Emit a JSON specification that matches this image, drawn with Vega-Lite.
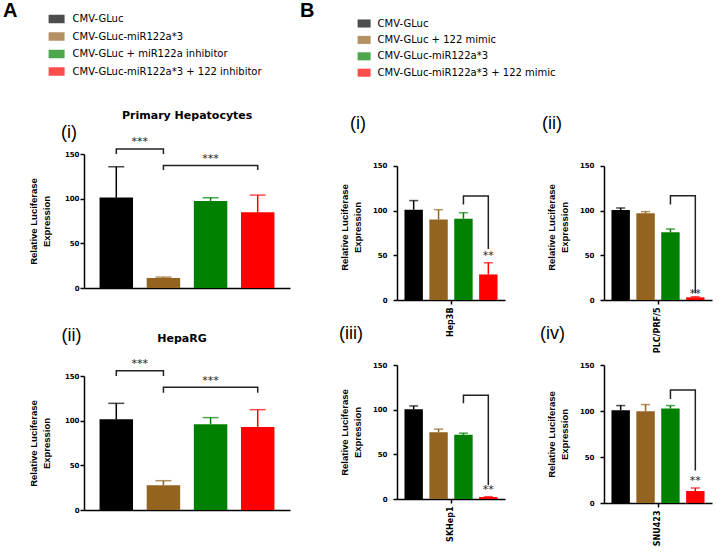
{
  "$schema": "https://vega.github.io/schema/vega-lite/v6.json",
  "autosize": {"type": "none"},
  "padding": {"left": 84, "top": 154, "right": 634, "bottom": 398},
  "background": "white",
  "spacing": 10,
  "resolve": {"scale": {"color": "independent"}, "legend": {"color": "independent"}},
  "hconcat": [
    {
      "spacing": 36,
      "vconcat": [
        {
          "title": {"text": "Primary Hepatocytes", "anchor": "middle", "dx": 28, "offset": 3, "font": "DejaVu Sans", "fontSize": 11, "fontWeight": "bold", "color": "black"},
          "vconcat": [
            {
              "width": 206, "height": 134,
              "title": {"text": "(i)", "anchor": "start", "frame": "group", "dx": -23, "offset": -6, "font": "Liberation Sans", "fontSize": 18, "fontWeight": "normal", "color": "black"},
              "data": {"values": [
                {"group": "CMV-GLuc", "mean": 101.2, "upper": 135.7},
                {"group": "CMV-GLuc-miR122a*3", "mean": 11.2, "upper": 12.2},
                {"group": "CMV-GLuc + miR122a inhibitor", "mean": 97.5, "upper": 101},
                {"group": "CMV-GLuc-miR122a*3 + 122 inhibitor", "mean": 84.7, "upper": 104}
              ]},
              "encoding": {
                "x": {"field": "group", "type": "nominal", "scale": {"domain": ["CMV-GLuc", "CMV-GLuc-miR122a*3", "CMV-GLuc + miR122a inhibitor", "CMV-GLuc-miR122a*3 + 122 inhibitor"], "paddingInner": 0.29, "paddingOuter": 0.33}, "axis": {"labels": false, "ticks": false, "title": null}},
                "color": {"field": "group", "type": "nominal", "scale": {"domain": ["CMV-GLuc", "CMV-GLuc-miR122a*3", "CMV-GLuc + miR122a inhibitor", "CMV-GLuc-miR122a*3 + 122 inhibitor"], "range": ["#000000", "#946320", "#008000", "#ff0000"]}, "legend": {"title": "A", "titleOrient": "left", "titleAnchor": "start", "titleBaseline": "middle", "titlePadding": 30.6, "titleFont": "Liberation Sans", "titleFontSize": 20, "titleFontWeight": "bold", "titleColor": "black", "orient": "none", "legendX": -81, "legendY": -143, "symbolType": "M-1,-0.53H1V0.53H-1Z", "symbolSize": 256, "symbolStrokeWidth": 0, "labelFont": "DejaVu Sans", "labelFontSize": 10, "labelColor": "black", "labelLimit": 400, "labelOffset": 8, "rowPadding": 4.5, "padding": 0}}
              },
              "layer": [
                {"mark": {"type": "rule", "strokeWidth": 1.5}, "encoding": {"y": {"field": "mean", "type": "quantitative", "scale": {"domain": [0, 150], "nice": false}, "axis": {"values": [0, 50, 100, 150], "title": ["Relative Luciferase", "Expression"], "labelPadding": 1, "titlePadding": 13}}, "y2": {"field": "upper"}}},
                {"mark": {"type": "tick", "size": 16, "thickness": 1.5}, "encoding": {"y": {"field": "upper", "type": "quantitative", "scale": {"domain": [0, 150], "nice": false}}}},
                {"mark": {"type": "bar"}, "encoding": {"y": {"field": "mean", "type": "quantitative", "scale": {"domain": [0, 150], "nice": false}}}},
                {"data": {"values": [
                  {"id": 1, "step": 1, "group": "CMV-GLuc", "v": 150},
                  {"id": 1, "step": 2, "group": "CMV-GLuc", "v": 155.6},
                  {"id": 1, "step": 3, "group": "CMV-GLuc-miR122a*3", "v": 155.6},
                  {"id": 1, "step": 4, "group": "CMV-GLuc-miR122a*3", "v": 150},
                  {"id": 2, "step": 1, "group": "CMV-GLuc-miR122a*3", "v": 132},
                  {"id": 2, "step": 2, "group": "CMV-GLuc-miR122a*3", "v": 137},
                  {"id": 2, "step": 3, "group": "CMV-GLuc-miR122a*3 + 122 inhibitor", "v": 137},
                  {"id": 2, "step": 4, "group": "CMV-GLuc-miR122a*3 + 122 inhibitor", "v": 132}
                ]}, "mark": {"type": "line", "strokeWidth": 1.5}, "encoding": {"y": {"field": "v", "type": "quantitative", "scale": {"domain": [0, 150], "nice": false}}, "order": {"field": "step", "type": "quantitative"}, "detail": {"field": "id", "type": "nominal"}, "color": {"value": "#222222"}}},
                {"data": {"values": [{"group": "CMV-GLuc", "v": 159.8, "label": "***"}]}, "mark": {"type": "text", "font": "DejaVu Sans", "fontSize": 11, "baseline": "alphabetic", "fill": "#222222"}, "encoding": {"x": {"field": "group", "type": "nominal", "bandPosition": 1.204}, "y": {"field": "v", "type": "quantitative", "scale": {"domain": [0, 150], "nice": false}}, "text": {"field": "label"}, "color": {"value": "#222222"}}},
                {"data": {"values": [{"group": "CMV-GLuc + miR122a inhibitor", "v": 140.7, "label": "***"}]}, "mark": {"type": "text", "font": "DejaVu Sans", "fontSize": 11, "baseline": "alphabetic", "fill": "#222222"}, "encoding": {"x": {"field": "group", "type": "nominal", "bandPosition": 0.5}, "y": {"field": "v", "type": "quantitative", "scale": {"domain": [0, 150], "nice": false}}, "text": {"field": "label"}, "color": {"value": "#222222"}}}
              ]
            }
          ]
        },
        {
          "title": {"text": "(ii)", "anchor": "start", "dx": 33, "offset": -12, "font": "Liberation Sans", "fontSize": 18, "fontWeight": "normal", "color": "black"},
          "vconcat": [
            {
              "width": 206, "height": 134,
              "title": {"text": "HepaRG", "anchor": "middle", "frame": "group", "dx": -5, "offset": 14, "font": "DejaVu Sans", "fontSize": 11, "fontWeight": "bold", "color": "black"},
              "data": {"values": [
                {"group": "CMV-GLuc", "mean": 101.5, "upper": 119.4},
                {"group": "CMV-GLuc-miR122a*3", "mean": 27.6, "upper": 32.8},
                {"group": "CMV-GLuc + miR122a inhibitor", "mean": 95.9, "upper": 103.4},
                {"group": "CMV-GLuc-miR122a*3 + 122 inhibitor", "mean": 92.9, "upper": 112.3}
              ]},
              "encoding": {
                "x": {"field": "group", "type": "nominal", "scale": {"domain": ["CMV-GLuc", "CMV-GLuc-miR122a*3", "CMV-GLuc + miR122a inhibitor", "CMV-GLuc-miR122a*3 + 122 inhibitor"], "paddingInner": 0.29, "paddingOuter": 0.33}, "axis": {"labels": false, "ticks": false, "title": null}},
                "color": {"field": "group", "type": "nominal", "scale": {"domain": ["CMV-GLuc", "CMV-GLuc-miR122a*3", "CMV-GLuc + miR122a inhibitor", "CMV-GLuc-miR122a*3 + 122 inhibitor"], "range": ["#000000", "#946320", "#008000", "#ff0000"]}, "legend": {"title": "A", "titleOrient": "left", "titleAnchor": "start", "titleBaseline": "middle", "titlePadding": 30.6, "titleFont": "Liberation Sans", "titleFontSize": 20, "titleFontWeight": "bold", "titleColor": "black", "orient": "none", "legendX": -81, "legendY": -143, "symbolType": "M-1,-0.53H1V0.53H-1Z", "symbolSize": 256, "symbolStrokeWidth": 0, "labelFont": "DejaVu Sans", "labelFontSize": 10, "labelColor": "black", "labelLimit": 400, "labelOffset": 8, "rowPadding": 4.5, "padding": 0}}
              },
              "layer": [
                {"mark": {"type": "rule", "strokeWidth": 1.5}, "encoding": {"y": {"field": "mean", "type": "quantitative", "scale": {"domain": [0, 150], "nice": false}, "axis": {"values": [0, 50, 100, 150], "title": ["Relative Luciferase", "Expression"], "labelPadding": 1, "titlePadding": 13}}, "y2": {"field": "upper"}}},
                {"mark": {"type": "tick", "size": 16, "thickness": 1.5}, "encoding": {"y": {"field": "upper", "type": "quantitative", "scale": {"domain": [0, 150], "nice": false}}}},
                {"mark": {"type": "bar"}, "encoding": {"y": {"field": "mean", "type": "quantitative", "scale": {"domain": [0, 150], "nice": false}}}},
                {"data": {"values": [
                  {"id": 1, "step": 1, "group": "CMV-GLuc", "v": 150},
                  {"id": 1, "step": 2, "group": "CMV-GLuc", "v": 156},
                  {"id": 1, "step": 3, "group": "CMV-GLuc-miR122a*3", "v": 156},
                  {"id": 1, "step": 4, "group": "CMV-GLuc-miR122a*3", "v": 150},
                  {"id": 2, "step": 1, "group": "CMV-GLuc-miR122a*3", "v": 131.3},
                  {"id": 2, "step": 2, "group": "CMV-GLuc-miR122a*3", "v": 137.3},
                  {"id": 2, "step": 3, "group": "CMV-GLuc-miR122a*3 + 122 inhibitor", "v": 137.3},
                  {"id": 2, "step": 4, "group": "CMV-GLuc-miR122a*3 + 122 inhibitor", "v": 131.3}
                ]}, "mark": {"type": "line", "strokeWidth": 1.5}, "encoding": {"y": {"field": "v", "type": "quantitative", "scale": {"domain": [0, 150], "nice": false}}, "order": {"field": "step", "type": "quantitative"}, "detail": {"field": "id", "type": "nominal"}, "color": {"value": "#222222"}}},
                {"data": {"values": [{"group": "CMV-GLuc", "v": 159.8, "label": "***"}]}, "mark": {"type": "text", "font": "DejaVu Sans", "fontSize": 11, "baseline": "alphabetic", "fill": "#222222"}, "encoding": {"x": {"field": "group", "type": "nominal", "bandPosition": 1.204}, "y": {"field": "v", "type": "quantitative", "scale": {"domain": [0, 150], "nice": false}}, "text": {"field": "label"}, "color": {"value": "#222222"}}},
                {"data": {"values": [{"group": "CMV-GLuc + miR122a inhibitor", "v": 140.8, "label": "***"}]}, "mark": {"type": "text", "font": "DejaVu Sans", "fontSize": 11, "baseline": "alphabetic", "fill": "#222222"}, "encoding": {"x": {"field": "group", "type": "nominal", "bandPosition": 0.5}, "y": {"field": "v", "type": "quantitative", "scale": {"domain": [0, 150], "nice": false}}, "text": {"field": "label"}, "color": {"value": "#222222"}}}
              ]
            }
          ]
        }
      ]
    },
    {
      "columns": 2,
      "bounds": "flush",
      "spacing": {"row": 65, "column": 99},
      "concat": [
        {
          "width": 108, "height": 146,
          "title": {"text": "(i)", "anchor": "start", "frame": "group", "dx": -47, "offset": 21, "font": "Liberation Sans", "fontSize": 18, "fontWeight": "normal", "color": "black"},
          "data": {"values": [
            {"group": "CMV-GLuc", "mean": 101.1, "upper": 111.3},
            {"group": "CMV-GLuc + 122 mimic", "mean": 90.2, "upper": 101.1},
            {"group": "CMV-GLuc-miR122a*3", "mean": 91, "upper": 97.7},
            {"group": "CMV-GLuc-miR122a*3 + 122 mimic", "mean": 28.6, "upper": 41.7}
          ]},
          "encoding": {
            "x": {"field": "group", "type": "nominal", "scale": {"domain": ["CMV-GLuc", "CMV-GLuc + 122 mimic", "CMV-GLuc-miR122a*3", "CMV-GLuc-miR122a*3 + 122 mimic"], "paddingInner": 0.26, "paddingOuter": 0.3}, "axis": {"values": ["CMV-GLuc + 122 mimic"], "tickOffset": 12.4, "labelExpr": "'Hep3B'", "labelAngle": 270, "labelPadding": 3, "labelFontSize": 8, "title": null}},
            "color": {"field": "group", "type": "nominal", "scale": {"domain": ["CMV-GLuc", "CMV-GLuc + 122 mimic", "CMV-GLuc-miR122a*3", "CMV-GLuc-miR122a*3 + 122 mimic"], "range": ["#000000", "#946320", "#008000", "#ff0000"]}, "legend": {"title": "B", "titleOrient": "left", "titleAnchor": "start", "titleBaseline": "alphabetic", "titlePadding": 42.6, "titleFont": "Liberation Sans", "titleFontSize": 20, "titleFontWeight": "bold", "titleColor": "black", "orient": "none", "legendX": -97, "legendY": -137, "symbolType": "M-1,-0.62H1V0.62H-1Z", "symbolSize": 169, "symbolStrokeWidth": 0, "labelFont": "DejaVu Sans", "labelFontSize": 10, "labelColor": "black", "labelLimit": 400, "labelOffset": 7, "rowPadding": 4.4, "padding": 0}}
          },
          "layer": [
            {"mark": {"type": "rule", "strokeWidth": 1.5}, "encoding": {"y": {"field": "mean", "type": "quantitative", "scale": {"domain": [0, 163.43], "nice": false}, "axis": {"values": [0, 50, 100, 150], "title": ["Relative Luciferase", "Expression"], "labelPadding": 6, "titlePadding": 10, "domainDash": [134, 40]}}, "y2": {"field": "upper"}}},
            {"mark": {"type": "tick", "size": 9, "thickness": 1.5}, "encoding": {"y": {"field": "upper", "type": "quantitative", "scale": {"domain": [0, 163.43], "nice": false}}}},
            {"mark": {"type": "bar"}, "encoding": {"y": {"field": "mean", "type": "quantitative", "scale": {"domain": [0, 163.43], "nice": false}}}},
            {"data": {"values": [
              {"id": 1, "step": 1, "group": "CMV-GLuc-miR122a*3", "v": 106.8},
              {"id": 1, "step": 2, "group": "CMV-GLuc-miR122a*3", "v": 116.5},
              {"id": 1, "step": 3, "group": "CMV-GLuc-miR122a*3 + 122 mimic", "v": 116.5},
              {"id": 1, "step": 4, "group": "CMV-GLuc-miR122a*3 + 122 mimic", "v": 57.1}
            ]}, "mark": {"type": "line", "strokeWidth": 1.5}, "encoding": {"y": {"field": "v", "type": "quantitative", "scale": {"domain": [0, 163.43], "nice": false}}, "order": {"field": "step", "type": "quantitative"}, "detail": {"field": "id", "type": "nominal"}, "color": {"value": "#222222"}}},
            {"data": {"values": [{"group": "CMV-GLuc-miR122a*3 + 122 mimic", "v": 45.4, "label": "**"}]}, "mark": {"type": "text", "font": "DejaVu Sans", "fontSize": 11, "baseline": "alphabetic"}, "encoding": {"y": {"field": "v", "type": "quantitative", "scale": {"domain": [0, 163.43], "nice": false}}, "text": {"field": "label"}, "color": {"value": "#222222"}}}
          ]
        },
        {
          "width": 108, "height": 146,
          "title": {"text": "(ii)", "anchor": "start", "frame": "group", "dx": -62, "offset": 21, "font": "Liberation Sans", "fontSize": 18, "fontWeight": "normal", "color": "black"},
          "data": {"values": [
            {"group": "CMV-GLuc", "mean": 100.7, "upper": 103},
            {"group": "CMV-GLuc + 122 mimic", "mean": 97, "upper": 98.9},
            {"group": "CMV-GLuc-miR122a*3", "mean": 75.7, "upper": 79.5},
            {"group": "CMV-GLuc-miR122a*3 + 122 mimic", "mean": 3, "upper": 3.7}
          ]},
          "encoding": {
            "x": {"field": "group", "type": "nominal", "scale": {"domain": ["CMV-GLuc", "CMV-GLuc + 122 mimic", "CMV-GLuc-miR122a*3", "CMV-GLuc-miR122a*3 + 122 mimic"], "paddingInner": 0.26, "paddingOuter": 0.3}, "axis": {"values": ["CMV-GLuc + 122 mimic"], "tickOffset": 12.4, "labelExpr": "'PLC/PRF/5'", "labelAngle": 270, "labelPadding": 3, "labelFontSize": 8, "title": null}},
            "color": {"field": "group", "type": "nominal", "scale": {"domain": ["CMV-GLuc", "CMV-GLuc + 122 mimic", "CMV-GLuc-miR122a*3", "CMV-GLuc-miR122a*3 + 122 mimic"], "range": ["#000000", "#946320", "#008000", "#ff0000"]}, "legend": {"title": "B", "titleOrient": "left", "titleAnchor": "start", "titleBaseline": "alphabetic", "titlePadding": 42.6, "titleFont": "Liberation Sans", "titleFontSize": 20, "titleFontWeight": "bold", "titleColor": "black", "orient": "none", "legendX": -97, "legendY": -137, "symbolType": "M-1,-0.62H1V0.62H-1Z", "symbolSize": 169, "symbolStrokeWidth": 0, "labelFont": "DejaVu Sans", "labelFontSize": 10, "labelColor": "black", "labelLimit": 400, "labelOffset": 7, "rowPadding": 4.4, "padding": 0}}
          },
          "layer": [
            {"mark": {"type": "rule", "strokeWidth": 1.5}, "encoding": {"y": {"field": "mean", "type": "quantitative", "scale": {"domain": [0, 163.43], "nice": false}, "axis": {"values": [0, 50, 100, 150], "title": ["Relative Luciferase", "Expression"], "labelPadding": 6, "titlePadding": 10, "domainDash": [134, 40]}}, "y2": {"field": "upper"}}},
            {"mark": {"type": "tick", "size": 9, "thickness": 1.5}, "encoding": {"y": {"field": "upper", "type": "quantitative", "scale": {"domain": [0, 163.43], "nice": false}}}},
            {"mark": {"type": "bar"}, "encoding": {"y": {"field": "mean", "type": "quantitative", "scale": {"domain": [0, 163.43], "nice": false}}}},
            {"data": {"values": [
              {"id": 1, "step": 1, "group": "CMV-GLuc-miR122a*3", "v": 107},
              {"id": 1, "step": 2, "group": "CMV-GLuc-miR122a*3", "v": 116.8},
              {"id": 1, "step": 3, "group": "CMV-GLuc-miR122a*3 + 122 mimic", "v": 116.8},
              {"id": 1, "step": 4, "group": "CMV-GLuc-miR122a*3 + 122 mimic", "v": 7.5}
            ]}, "mark": {"type": "line", "strokeWidth": 1.5}, "encoding": {"y": {"field": "v", "type": "quantitative", "scale": {"domain": [0, 163.43], "nice": false}}, "order": {"field": "step", "type": "quantitative"}, "detail": {"field": "id", "type": "nominal"}, "color": {"value": "#222222"}}},
            {"data": {"values": [{"group": "CMV-GLuc-miR122a*3 + 122 mimic", "v": 3.3, "label": "**"}]}, "mark": {"type": "text", "font": "DejaVu Sans", "fontSize": 11, "baseline": "alphabetic"}, "encoding": {"y": {"field": "v", "type": "quantitative", "scale": {"domain": [0, 163.43], "nice": false}}, "text": {"field": "label"}, "color": {"value": "#222222"}}}
          ]
        },
        {
          "width": 108, "height": 134,
          "title": {"text": "(iii)", "anchor": "start", "frame": "group", "dx": -58, "offset": 18, "font": "Liberation Sans", "fontSize": 18, "fontWeight": "normal", "color": "black"},
          "data": {"values": [
            {"group": "CMV-GLuc", "mean": 100.5, "upper": 104.2},
            {"group": "CMV-GLuc + 122 mimic", "mean": 74.8, "upper": 78.2},
            {"group": "CMV-GLuc-miR122a*3", "mean": 71.8, "upper": 73.7},
            {"group": "CMV-GLuc-miR122a*3 + 122 mimic", "mean": 2.2, "upper": 2.6}
          ]},
          "encoding": {
            "x": {"field": "group", "type": "nominal", "scale": {"domain": ["CMV-GLuc", "CMV-GLuc + 122 mimic", "CMV-GLuc-miR122a*3", "CMV-GLuc-miR122a*3 + 122 mimic"], "paddingInner": 0.26, "paddingOuter": 0.3}, "axis": {"values": ["CMV-GLuc + 122 mimic"], "tickOffset": 12.4, "labelExpr": "'SKHep1'", "labelAngle": 270, "labelPadding": 3, "labelFontSize": 8, "title": null}},
            "color": {"field": "group", "type": "nominal", "scale": {"domain": ["CMV-GLuc", "CMV-GLuc + 122 mimic", "CMV-GLuc-miR122a*3", "CMV-GLuc-miR122a*3 + 122 mimic"], "range": ["#000000", "#946320", "#008000", "#ff0000"]}, "legend": {"title": "B", "titleOrient": "left", "titleAnchor": "start", "titleBaseline": "alphabetic", "titlePadding": 42.6, "titleFont": "Liberation Sans", "titleFontSize": 20, "titleFontWeight": "bold", "titleColor": "black", "orient": "none", "legendX": -97, "legendY": -137, "symbolType": "M-1,-0.62H1V0.62H-1Z", "symbolSize": 169, "symbolStrokeWidth": 0, "labelFont": "DejaVu Sans", "labelFontSize": 10, "labelColor": "black", "labelLimit": 400, "labelOffset": 7, "rowPadding": 4.4, "padding": 0}}
          },
          "layer": [
            {"mark": {"type": "rule", "strokeWidth": 1.5}, "encoding": {"y": {"field": "mean", "type": "quantitative", "scale": {"domain": [0, 150], "nice": false}, "axis": {"values": [0, 50, 100, 150], "title": ["Relative Luciferase", "Expression"], "labelPadding": 6, "titlePadding": 10}}, "y2": {"field": "upper"}}},
            {"mark": {"type": "tick", "size": 9, "thickness": 1.5}, "encoding": {"y": {"field": "upper", "type": "quantitative", "scale": {"domain": [0, 150], "nice": false}}}},
            {"mark": {"type": "bar"}, "encoding": {"y": {"field": "mean", "type": "quantitative", "scale": {"domain": [0, 150], "nice": false}}}},
            {"data": {"values": [
              {"id": 1, "step": 1, "group": "CMV-GLuc-miR122a*3", "v": 107.2},
              {"id": 1, "step": 2, "group": "CMV-GLuc-miR122a*3", "v": 116.1},
              {"id": 1, "step": 3, "group": "CMV-GLuc-miR122a*3 + 122 mimic", "v": 116.1},
              {"id": 1, "step": 4, "group": "CMV-GLuc-miR122a*3 + 122 mimic", "v": 15.3}
            ]}, "mark": {"type": "line", "strokeWidth": 1.5}, "encoding": {"y": {"field": "v", "type": "quantitative", "scale": {"domain": [0, 150], "nice": false}}, "order": {"field": "step", "type": "quantitative"}, "detail": {"field": "id", "type": "nominal"}, "color": {"value": "#222222"}}},
            {"data": {"values": [{"group": "CMV-GLuc-miR122a*3 + 122 mimic", "v": 6.6, "label": "**"}]}, "mark": {"type": "text", "font": "DejaVu Sans", "fontSize": 11, "baseline": "alphabetic"}, "encoding": {"y": {"field": "v", "type": "quantitative", "scale": {"domain": [0, 150], "nice": false}}, "text": {"field": "label"}, "color": {"value": "#222222"}}}
          ]
        },
        {
          "width": 108, "height": 138,
          "title": {"text": "(iv)", "anchor": "start", "frame": "group", "dx": -64, "offset": 18, "font": "Liberation Sans", "fontSize": 18, "fontWeight": "normal", "color": "black"},
          "data": {"values": [
            {"group": "CMV-GLuc", "mean": 100.8, "upper": 105.9},
            {"group": "CMV-GLuc + 122 mimic", "mean": 99.7, "upper": 107},
            {"group": "CMV-GLuc-miR122a*3", "mean": 102.6, "upper": 105.9},
            {"group": "CMV-GLuc-miR122a*3 + 122 mimic", "mean": 13, "upper": 16.3}
          ]},
          "encoding": {
            "x": {"field": "group", "type": "nominal", "scale": {"domain": ["CMV-GLuc", "CMV-GLuc + 122 mimic", "CMV-GLuc-miR122a*3", "CMV-GLuc-miR122a*3 + 122 mimic"], "paddingInner": 0.26, "paddingOuter": 0.3}, "axis": {"values": ["CMV-GLuc + 122 mimic"], "tickOffset": 12.4, "labelExpr": "'SNU423'", "labelAngle": 270, "labelPadding": 3, "labelFontSize": 8, "title": null}},
            "color": {"field": "group", "type": "nominal", "scale": {"domain": ["CMV-GLuc", "CMV-GLuc + 122 mimic", "CMV-GLuc-miR122a*3", "CMV-GLuc-miR122a*3 + 122 mimic"], "range": ["#000000", "#946320", "#008000", "#ff0000"]}, "legend": {"title": "B", "titleOrient": "left", "titleAnchor": "start", "titleBaseline": "alphabetic", "titlePadding": 42.6, "titleFont": "Liberation Sans", "titleFontSize": 20, "titleFontWeight": "bold", "titleColor": "black", "orient": "none", "legendX": -97, "legendY": -137, "symbolType": "M-1,-0.62H1V0.62H-1Z", "symbolSize": 169, "symbolStrokeWidth": 0, "labelFont": "DejaVu Sans", "labelFontSize": 10, "labelColor": "black", "labelLimit": 400, "labelOffset": 7, "rowPadding": 4.4, "padding": 0}}
          },
          "layer": [
            {"mark": {"type": "rule", "strokeWidth": 1.5}, "encoding": {"y": {"field": "mean", "type": "quantitative", "scale": {"domain": [0, 150], "nice": false}, "axis": {"values": [0, 50, 100, 150], "title": ["Relative Luciferase", "Expression"], "labelPadding": 6, "titlePadding": 10}}, "y2": {"field": "upper"}}},
            {"mark": {"type": "tick", "size": 9, "thickness": 1.5}, "encoding": {"y": {"field": "upper", "type": "quantitative", "scale": {"domain": [0, 150], "nice": false}}}},
            {"mark": {"type": "bar"}, "encoding": {"y": {"field": "mean", "type": "quantitative", "scale": {"domain": [0, 150], "nice": false}}}},
            {"data": {"values": [
              {"id": 1, "step": 1, "group": "CMV-GLuc-miR122a*3", "v": 113.1},
              {"id": 1, "step": 2, "group": "CMV-GLuc-miR122a*3", "v": 122.9},
              {"id": 1, "step": 3, "group": "CMV-GLuc-miR122a*3 + 122 mimic", "v": 122.9},
              {"id": 1, "step": 4, "group": "CMV-GLuc-miR122a*3 + 122 mimic", "v": 35.4}
            ]}, "mark": {"type": "line", "strokeWidth": 1.5}, "encoding": {"y": {"field": "v", "type": "quantitative", "scale": {"domain": [0, 150], "nice": false}}, "order": {"field": "step", "type": "quantitative"}, "detail": {"field": "id", "type": "nominal"}, "color": {"value": "#222222"}}},
            {"data": {"values": [{"group": "CMV-GLuc-miR122a*3 + 122 mimic", "v": 20.6, "label": "**"}]}, "mark": {"type": "text", "font": "DejaVu Sans", "fontSize": 11, "baseline": "alphabetic"}, "encoding": {"y": {"field": "v", "type": "quantitative", "scale": {"domain": [0, 150], "nice": false}}, "text": {"field": "label"}, "color": {"value": "#222222"}}}
          ]
        }
      ]
    }
  ],
  "config": {
    "view": {"stroke": null},
    "axis": {
      "domainColor": "#000000", "domainWidth": 1.5, "tickColor": "#000000", "tickWidth": 1.5, "tickSize": 4,
      "labelColor": "#000000", "labelFont": "DejaVu Sans", "labelFontSize": 7, "labelFontWeight": "bold",
      "titleColor": "#000000", "titleFont": "Liberation Sans", "titleFontSize": 9.5, "titleFontWeight": "bold", "titleLineHeight": 13,
      "grid": false
    }
  }
}
